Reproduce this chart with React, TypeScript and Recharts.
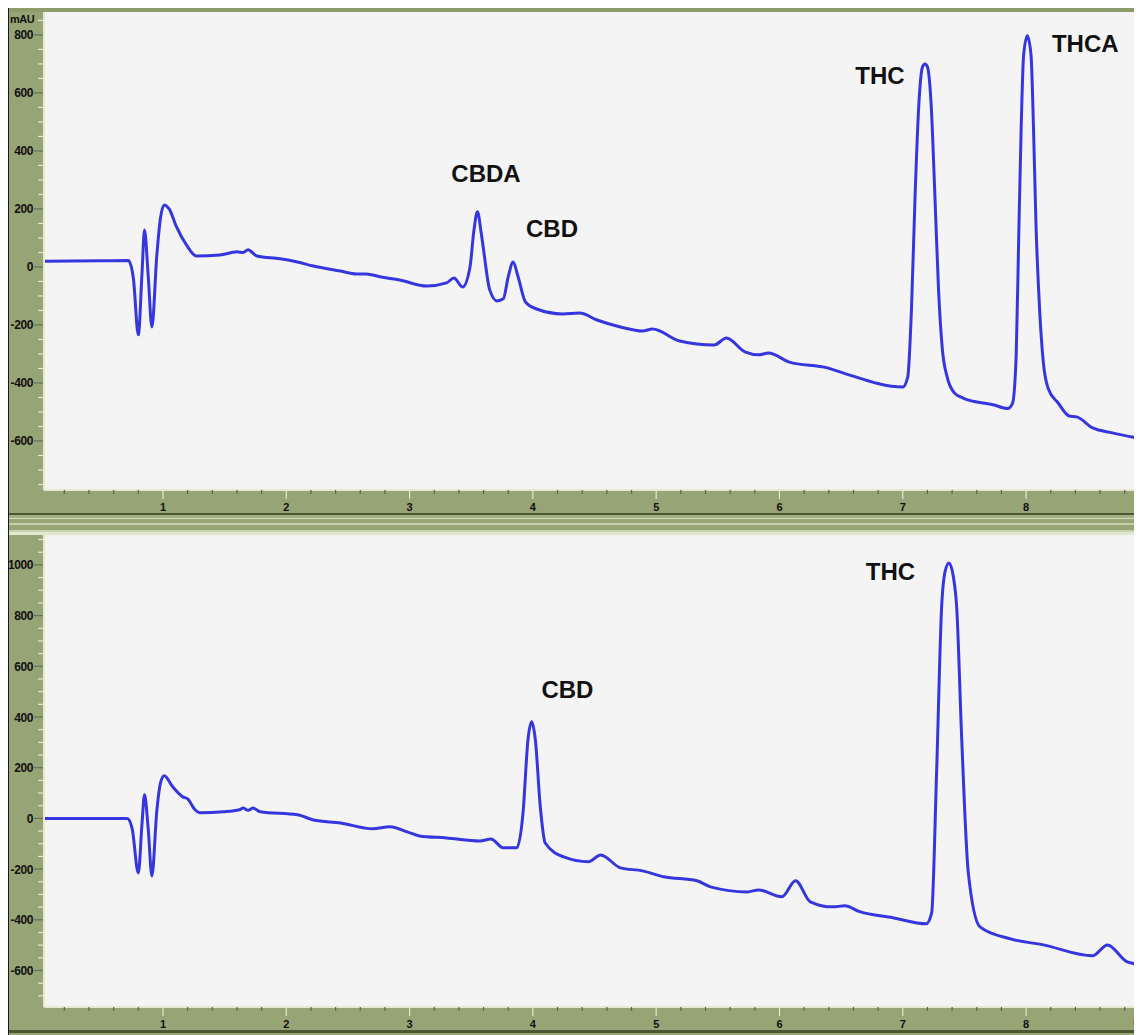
import React from "react";
import { LineChart, Line, XAxis, YAxis, CartesianGrid, ReferenceDot } from "recharts";

// retention time (min) and absorbance (mAU)
const TOP_TIME = [
  0.04, 0.5, 0.72, 0.76, 0.8, 0.83, 0.85, 0.88, 0.91, 0.95, 0.98, 1.01, 1.05, 1.11, 1.19, 1.27,
  1.46, 1.6, 1.65, 1.69, 1.76, 1.95, 2.09, 2.22, 2.44, 2.57, 2.65, 2.76, 2.92, 3.14, 3.3, 3.36,
  3.43, 3.49, 3.52, 3.55, 3.58, 3.6, 3.65, 3.71, 3.76, 3.8, 3.84, 3.88, 3.94, 4.03, 4.24, 4.38,
  4.52, 4.71, 4.89, 4.97, 5.19, 5.47, 5.57, 5.72, 5.83, 5.91, 6.08, 6.39, 6.52, 7.0, 7.04, 7.07,
  7.1, 7.13, 7.16, 7.18, 7.2, 7.23, 7.26, 7.29, 7.32, 7.36, 7.42, 7.49, 7.74, 7.85, 7.89, 7.92,
  7.94, 7.96, 7.98, 8.01, 8.04, 8.06, 8.08, 8.11, 8.14, 8.18, 8.26, 8.35, 8.41, 8.54, 8.7, 8.94,
];
const TOP_MAU = [
  20, 21, 22, -40, -234, -20, 127, -30, -207, 40, 170, 214, 200, 138, 76, 38,
  41, 52, 50, 59, 38, 28, 17, 3, -14, -24, -24, -34, -45, -66, -55, -38,
  -69, 0, 120, 190, 120, 59, -79, -117, -110, -34, 17, -34, -121, -145, -162, -159,
  -183, -207, -221, -214, -255, -269, -245, -293, -303, -297, -328, -348, -366, -414, -380, -150,
  250, 560, 690, 700, 690, 560, 250, -80, -280, -380, -435, -452, -476, -488, -470, -300,
  100, 480, 730, 797, 730, 480, 150, -150, -330, -420, -469, -514, -517, -555, -572, -593,
];

const BOTTOM_TIME = [
  0.04, 0.71, 0.75, 0.8, 0.83, 0.85, 0.88, 0.91, 0.95, 0.98, 1.01, 1.08, 1.16, 1.2, 1.26, 1.3,
  1.49, 1.62, 1.65, 1.69, 1.73, 1.79, 2.09, 2.22, 2.44, 2.7, 2.84, 2.98, 3.08, 3.3, 3.57, 3.66,
  3.76, 3.87, 3.92, 3.96, 3.99, 4.02, 4.06, 4.1, 4.25, 4.45, 4.55, 4.71, 4.89, 5.06, 5.33, 5.44,
  5.74, 5.83, 6.02, 6.13, 6.25, 6.43, 6.53, 6.65, 6.92, 7.19, 7.234, 7.274, 7.315, 7.343, 7.375,
  7.41, 7.437, 7.478, 7.531, 7.626, 7.87, 8.14, 8.54, 8.66, 8.82, 8.94,
];
const BOTTOM_MAU = [
  0, 0, -40, -215, -20, 93, -40, -227, 30, 140, 168, 124, 85, 77, 34, 22,
  26, 34, 41, 32, 41, 26, 14, -6, -18, -41, -33, -53, -69, -77, -89, -81,
  -116, -116, 22, 310, 381, 310, 46, -97, -152, -171, -144, -195, -207, -230, -246, -270,
  -290, -282, -309, -246, -329, -349, -345, -368, -392, -416, -373, 179, 834, 974, 1008,
  954, 834, 312, -213, -428, -475, -499, -542, -499, -566, -577,
];

const TOP_PEAKS = ["CBDA", "CBD", "THC", "THCA"];
const TOP_PEAK_T = [3.62, 4.155, 6.815, 8.48];
const TOP_PEAK_V = [321, 131, 659, 769];
const BOTTOM_PEAKS = ["CBD", "THC"];
const BOTTOM_PEAK_T = [4.28, 6.9];
const BOTTOM_PEAK_V = [507, 976];

const X_LABELS = [1, 2, 3, 4, 5, 6, 7, 8];
const TOP_Y_LABELS = [-600, -400, -200, 0, 200, 400, 600, 800];
const BOTTOM_Y_LABELS = [-600, -400, -200, 0, 200, 400, 600, 800, 1000];

const X_DOMAIN: [number, number] = [0.035, 8.94];
const TOP_Y_DOMAIN: [number, number] = [-769, 879];
const BOTTOM_Y_DOMAIN: [number, number] = [-744, 1118];

const OLIVE = "#97a475";
const DARK_OLIVE = "#4b5632";
const CREAM = "#e4e9cf";
const PLOT_BG = "#f4f4f4";
const TRACE = "#3636e0";
const FONT = "'Liberation Sans', Arial, sans-serif";

function steps(from: number, to: number, step: number) {
  const out: number[] = [];
  for (let v = from; v <= to + 1e-9; v += step) out.push(Math.round(v * 100) / 100);
  return out;
}

const X_TICKS = steps(0.2, 8.8, 0.2);

function XTick(props: any) {
  const { x, y, payload } = props;
  const major = X_LABELS.some((m) => Math.abs(m - payload.value) < 1e-6);
  return (
    <g>
      <line x1={x} x2={x} y1={y} y2={y + (major ? 9 : 4)} stroke={major ? CREAM : "#5d6842"} strokeWidth={1.2} />
      {major && (
        <text x={x} y={y + 21} textAnchor="middle" fontSize={11} fontWeight={700} fontFamily={FONT} fill="#111">
          {payload.value}
        </text>
      )}
    </g>
  );
}

function YTick(props: any) {
  const { x, y, payload, labels } = props;
  const major = labels.includes(payload.value);
  return (
    <g>
      <line x1={x - (major ? 10 : 6)} x2={x - 1} y1={y} y2={y} stroke={major ? "#69734f" : CREAM} strokeWidth={1.2} />
      {major && (
        <text x={x - 11} y={y + 4.5} textAnchor="end" fontSize={12} fontWeight={700} fontFamily={FONT} fill="#111" letterSpacing={-0.4}>
          {payload.value}
        </text>
      )}
    </g>
  );
}

interface PanelProps {
  height: number;
  time: number[];
  mau: number[];
  yDomain: [number, number];
  yLabels: number[];
  peaks: string[];
  peakT: number[];
  peakV: number[];
}

function Panel({ height, time, mau, yDomain, yLabels, peaks, peakT, peakV }: PanelProps) {
  const data = time.map((t, i) => ({ t, mau: mau[i] }));
  const yTicks = steps(Math.ceil(yDomain[0] / 50) * 50, yDomain[1], 50);
  return (
    <LineChart width={1133} height={height} data={data} margin={{ top: 0, right: 0, bottom: 0, left: 0 }}>
      <CartesianGrid fill={PLOT_BG} horizontal={false} vertical={false} stroke="none" />
      <XAxis
        type="number"
        dataKey="t"
        domain={X_DOMAIN}
        allowDataOverflow
        ticks={X_TICKS}
        interval={0}
        height={23}
        tickSize={0}
        tickMargin={0}
        tickLine={false}
        axisLine={{ stroke: CREAM, strokeWidth: 2 }}
        tick={(p: any) => <XTick {...p} />}
      />
      <YAxis
        type="number"
        domain={yDomain}
        allowDataOverflow
        ticks={yTicks}
        interval={0}
        width={35}
        tickSize={0}
        tickMargin={0}
        tickLine={false}
        axisLine={{ stroke: CREAM, strokeWidth: 2 }}
        tick={(p: any) => <YTick {...p} labels={yLabels} />}
      />
      <Line
        dataKey="mau"
        type="monotone"
        stroke={TRACE}
        strokeWidth={3}
        dot={false}
        activeDot={false}
        isAnimationActive={false}
      />
      {peaks.map((name, i) => (
        <ReferenceDot
          key={name}
          x={peakT[i]}
          y={peakV[i]}
          r={0}
          fill="none"
          stroke="none"
          label={{
            value: name,
            position: "center",
            fill: "#111",
            fontSize: 24,
            fontWeight: 700,
            fontFamily: FONT,
          }}
        />
      ))}
    </LineChart>
  );
}

export default function App() {
  return (
    <div
      style={{
        position: "relative",
        width: 1134,
        height: 1030,
        marginTop: -3,
        boxSizing: "border-box",
        borderLeft: "1px solid #1a1a1a",
        background: OLIVE,
        overflow: "hidden",
        fontFamily: FONT,
      }}
    >
      <div style={{ height: 3, background: "#5f6a47" }} />
      <div style={{ height: 4, background: "#8e9b6b" }} />
      <Panel
        height={501}
        time={TOP_TIME}
        mau={TOP_MAU}
        yDomain={TOP_Y_DOMAIN}
        yLabels={TOP_Y_LABELS}
        peaks={TOP_PEAKS}
        peakT={TOP_PEAK_T}
        peakV={TOP_PEAK_V}
      />
      <div
        style={{
          height: 22,
          background: `linear-gradient(to bottom, ${DARK_OLIVE} 0px, ${DARK_OLIVE} 2px, #a3b083 2px, #a3b083 5px, #d6ddbd 5px, #d6ddbd 6px, ${OLIVE} 6px, ${OLIVE} 10px, #c6cfaa 10px, #c6cfaa 12px, ${OLIVE} 12px, ${OLIVE} 17px, #c9d2ae 17px, #c9d2ae 19px, #e2e7cf 19px, #e2e7cf 22px)`,
        }}
      />
      <Panel
        height={495}
        time={BOTTOM_TIME}
        mau={BOTTOM_MAU}
        yDomain={BOTTOM_Y_DOMAIN}
        yLabels={BOTTOM_Y_LABELS}
        peaks={BOTTOM_PEAKS}
        peakT={BOTTOM_PEAK_T}
        peakV={BOTTOM_PEAK_V}
      />
      <div style={{ height: 3, background: DARK_OLIVE }} />
      <div
        style={{ position: "absolute", left: 1, top: 9, fontSize: 11, fontWeight: 700, lineHeight: "11px", color: "#111", letterSpacing: -0.5 }}
      >
        mAU
      </div>
      <div
        style={{ position: "absolute", left: 1124, top: 1011, fontSize: 11, fontWeight: 700, lineHeight: "11px", color: "#111" }}
      >
        min
      </div>
    </div>
  );
}
